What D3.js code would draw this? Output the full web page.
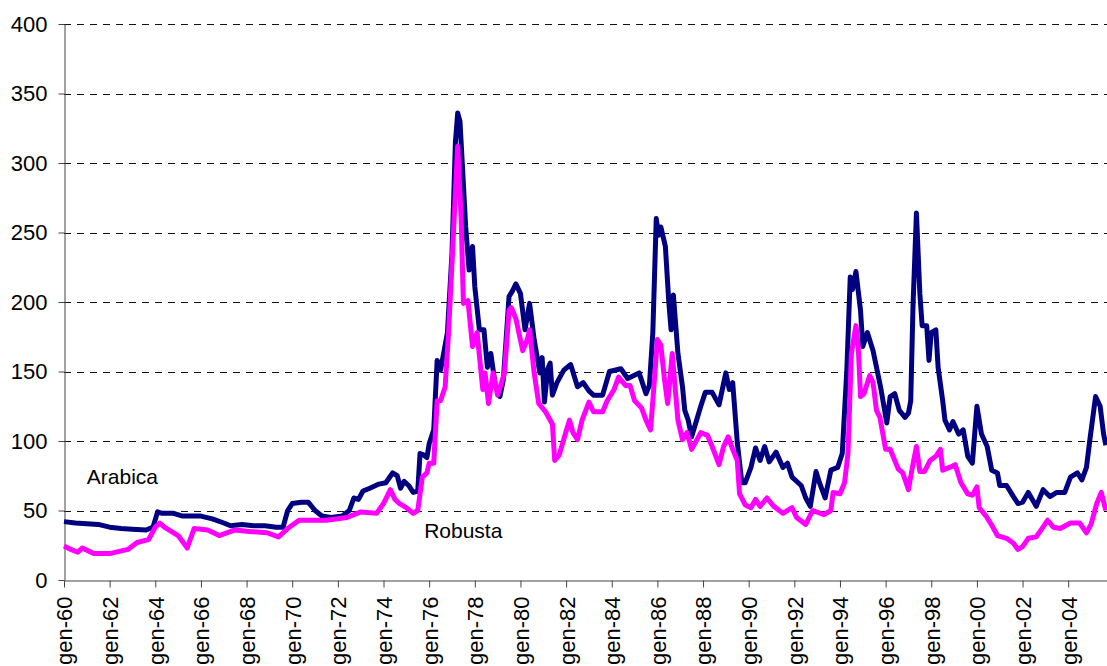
<!DOCTYPE html>
<html>
<head>
<meta charset="utf-8">
<title>Arabica - Robusta</title>
<script src="https://cdn.jsdelivr.net/npm/d3@7"></script>
<style>
body { margin: 0; background: #fff; }
svg { display: block; font-family: "Liberation Sans", Arial, sans-serif; }
.grid line { stroke: #111; stroke-dasharray: 7,6; }
.axis path, .axis line { stroke: #444; }
.axis text { fill: #000; }
</style>
</head>
<body>
<script>
// [anno decimale, valore]
var arabica = [
	[1960.0,42],[1960.5,41],[1961.0,40.5],[1961.5,40],[1962.0,38],[1962.5,37],[1963.0,36.5],[1963.6,36],
	[1963.9,38],[1964.1,49],[1964.3,48],[1964.8,48],[1965.2,46],[1965.6,46],[1966.0,46],[1966.5,44],
	[1967.0,41],[1967.3,39],[1967.8,40],[1968.3,39],[1968.8,39],[1969.3,38],[1969.6,38],[1969.8,50],
	[1970.0,55],[1970.4,56],[1970.7,56],[1971.0,50],[1971.3,46],[1971.7,45],[1972.2,46],[1972.5,50],
	[1972.7,59],[1972.9,58],[1973.1,64],[1973.4,66],[1973.8,69],[1974.1,70],[1974.4,77],[1974.6,75],
	[1974.75,66],[1974.9,71],[1975.1,68],[1975.3,63],[1975.5,64],[1975.6,91],[1975.75,90],[1975.9,88],
	[1976.0,98],[1976.2,108],[1976.35,158],[1976.5,151],[1976.8,178],[1977.0,235],[1977.15,315],[1977.25,336],
	[1977.35,330],[1977.45,300],[1977.6,254],[1977.75,223],[1977.9,240],[1978.0,211],[1978.2,180],[1978.4,180],
	[1978.55,153],[1978.7,163],[1978.9,140],[1979.1,132],[1979.25,144],[1979.5,204],[1979.65,208],[1979.8,213],
	[1980.0,206],[1980.2,180],[1980.4,199],[1980.6,173],[1980.85,149],[1980.95,160],[1981.05,128],[1981.2,152],
	[1981.3,156],[1981.4,133],[1981.6,142],[1981.9,151],[1982.2,155],[1982.5,139],[1982.75,142],[1983.0,136],
	[1983.2,133],[1983.6,133],[1983.9,150],[1984.4,152],[1984.7,145],[1985.2,149],[1985.5,134],[1985.65,140],
	[1985.8,178],[1985.95,260],[1986.05,248],[1986.15,254],[1986.35,240],[1986.5,200],[1986.6,180],[1986.7,205],
	[1986.9,163],[1987.1,139],[1987.2,122],[1987.35,115],[1987.5,103],[1987.9,125],[1988.1,135],[1988.4,135],
	[1988.7,126],[1989.0,149],[1989.15,137],[1989.3,142],[1989.5,99],[1989.7,70],[1989.85,70],[1990.1,81],
	[1990.3,95],[1990.5,86],[1990.7,96],[1990.9,85],[1991.2,92],[1991.5,81],[1991.7,84],[1991.9,74],
	[1992.3,68],[1992.5,59],[1992.7,53],[1992.95,78],[1993.1,70],[1993.35,59],[1993.6,79],[1993.9,81],
	[1994.1,91],[1994.3,151],[1994.45,218],[1994.55,209],[1994.7,222],[1994.9,194],[1995.0,168],[1995.2,178],
	[1995.45,165],[1995.6,153],[1995.8,137],[1996.05,113],[1996.2,132],[1996.4,134],[1996.6,122],[1996.85,117],
	[1997.0,120],[1997.1,129],[1997.2,197],[1997.35,264],[1997.5,206],[1997.6,183],[1997.8,183],[1997.9,158],
	[1998.0,178],[1998.2,180],[1998.3,153],[1998.5,129],[1998.6,115],[1998.8,108],[1998.95,114],[1999.2,105],
	[1999.4,108],[1999.6,89],[1999.8,84],[2000.0,125],[2000.2,105],[2000.45,96],[2000.65,79],[2000.9,77],
	[2001.0,68],[2001.3,68],[2001.6,60],[2001.8,55],[2002.0,56],[2002.25,63],[2002.6,53],[2002.9,65],
	[2003.2,60],[2003.5,63],[2003.85,63],[2004.1,74],[2004.4,77],[2004.6,72],[2004.8,81],[2004.95,101],
	[2005.2,132],[2005.4,125],[2005.55,105],[2005.65,97]
];
var robusta = [
	[1960.0,24.5],[1960.3,22],[1960.6,20],[1960.8,23],[1961.3,19],[1962.0,19],[1962.8,22],[1963.2,27],
	[1963.7,29],[1964.0,38],[1964.2,41],[1964.4,38],[1965.0,32],[1965.4,23],[1965.7,37],[1966.3,36],
	[1966.8,32],[1967.5,36],[1968.0,35],[1968.9,34],[1969.4,31],[1969.8,37],[1970.3,43],[1971.5,43],
	[1972.4,45],[1973.0,49],[1973.7,48],[1974.0,55],[1974.3,65],[1974.5,58],[1974.7,55],[1975.0,52],
	[1975.3,48],[1975.5,50],[1975.7,74],[1975.9,77],[1976.0,84],[1976.2,84],[1976.35,129],[1976.5,129],
	[1976.7,139],[1976.85,178],[1977.0,228],[1977.25,312],[1977.4,261],[1977.5,199],[1977.7,201],[1977.9,168],
	[1978.1,178],[1978.35,137],[1978.45,149],[1978.6,127],[1978.8,149],[1979.0,133],[1979.3,149],[1979.5,194],
	[1979.6,196],[1979.8,188],[1980.1,165],[1980.3,173],[1980.4,180],[1980.6,149],[1980.8,127],[1981.1,121],
	[1981.4,112],[1981.5,86],[1981.7,90],[1982.0,107],[1982.15,115],[1982.3,106],[1982.5,101],[1982.7,115],
	[1983.0,128],[1983.2,121],[1983.6,121],[1983.8,129],[1984.1,137],[1984.3,146],[1984.6,140],[1984.8,140],
	[1985.0,129],[1985.3,124],[1985.5,115],[1985.7,108],[1985.8,129],[1986.0,173],[1986.15,169],[1986.3,146],
	[1986.45,127],[1986.65,163],[1986.9,115],[1987.1,101],[1987.3,106],[1987.5,94],[1987.9,106],[1988.2,104],
	[1988.4,96],[1988.7,83],[1988.9,96],[1989.1,103],[1989.3,94],[1989.5,86],[1989.6,62],[1989.85,54],
	[1990.1,52],[1990.3,58],[1990.5,53],[1990.8,59],[1991.1,53],[1991.5,48],[1991.9,52],[1992.1,45],
	[1992.5,40],[1992.8,50],[1993.3,47],[1993.6,50],[1993.7,63],[1994.0,62],[1994.2,70],[1994.35,91],
	[1994.5,163],[1994.7,183],[1994.8,168],[1994.9,132],[1995.05,134],[1995.3,147],[1995.45,142],[1995.6,122],
	[1995.75,117],[1996.0,94],[1996.2,94],[1996.4,86],[1996.55,80],[1996.75,77],[1997.0,65],[1997.15,79],
	[1997.35,96],[1997.5,78],[1997.7,78],[1997.95,86],[1998.2,89],[1998.4,94],[1998.5,79],[1998.8,81],
	[1999.05,83],[1999.3,70],[1999.6,62],[1999.8,61],[2000.0,67],[2000.1,52],[2000.4,46],[2000.7,38],
	[2000.9,32],[2001.3,30],[2001.6,26.5],[2001.8,22],[2002.0,24],[2002.25,30],[2002.6,31],[2002.85,37],
	[2003.1,43],[2003.35,38],[2003.65,37],[2004.1,41],[2004.5,41],[2004.8,34],[2005.0,40],[2005.25,55],
	[2005.45,63],[2005.65,50]
];
var yTicks = [0, 50, 100, 150, 200, 250, 300, 350, 400];
var xTicks = d3.range(1960, 2005, 2);	// gen-60 ... gen-04

var width = 1107, height = 666;
var x = d3.scaleLinear().domain([1960, 2005.7]).range([64, 1107]);
var y = d3.scaleLinear().domain([0, 400]).range([580, 24]);

var svg = d3.select("body").append("svg")
	.attr("width", width)
	.attr("height", height);

// griglia tratteggiata
svg.append("g").attr("class", "grid")
	.selectAll("line").data(yTicks.slice(1)).enter().append("line")
	.attr("x1", x(1960)).attr("x2", width)
	.attr("y1", function(d){ return Math.round(y(d)) + 0.5; })
	.attr("y2", function(d){ return Math.round(y(d)) + 0.5; });

// asse Y
svg.append("g").attr("class", "axis")
	.attr("transform", "translate(" + (x(1960) + 0.5) + ",0)")
	.call(d3.axisLeft(y).tickValues(yTicks).tickSize(6).tickPadding(11).tickSizeOuter(0))
	.selectAll("text").attr("font-size", 22).attr("font-family", null);

// asse X
var gx = svg.append("g").attr("class", "axis")
	.attr("transform", "translate(0," + (y(0) + 0.5) + ")")
	.call(d3.axisBottom(x).tickValues(xTicks).tickSize(7).tickSizeOuter(0)
		.tickFormat(function(d){ return "gen-" + String(d).slice(2); }));
gx.selectAll("text")
	.attr("font-size", 22)
	.attr("transform", "rotate(-90)")
	.attr("x", -16).attr("y", 0).attr("dy", "0.36em")
	.style("text-anchor", "end");

var line = d3.line()
	.x(function(d){ return x(d[0]); })
	.y(function(d){ return y(d[1]); });

svg.append("path").datum(arabica)
	.attr("fill", "none").attr("stroke", "#000080").attr("stroke-width", 5)
	.attr("stroke-linejoin", "round").attr("d", line);
svg.append("path").datum(robusta)
	.attr("fill", "none").attr("stroke", "#ff00ff").attr("stroke-width", 5)
	.attr("stroke-linejoin", "round").attr("d", line);

// etichette
svg.append("text").attr("x", x(1961.0)).attr("y", y(69))
	.attr("font-size", 21).text("Arabica");
svg.append("text").attr("x", x(1975.78)).attr("y", y(30))
	.attr("font-size", 21).text("Robusta");
</script>
</body>
</html>
